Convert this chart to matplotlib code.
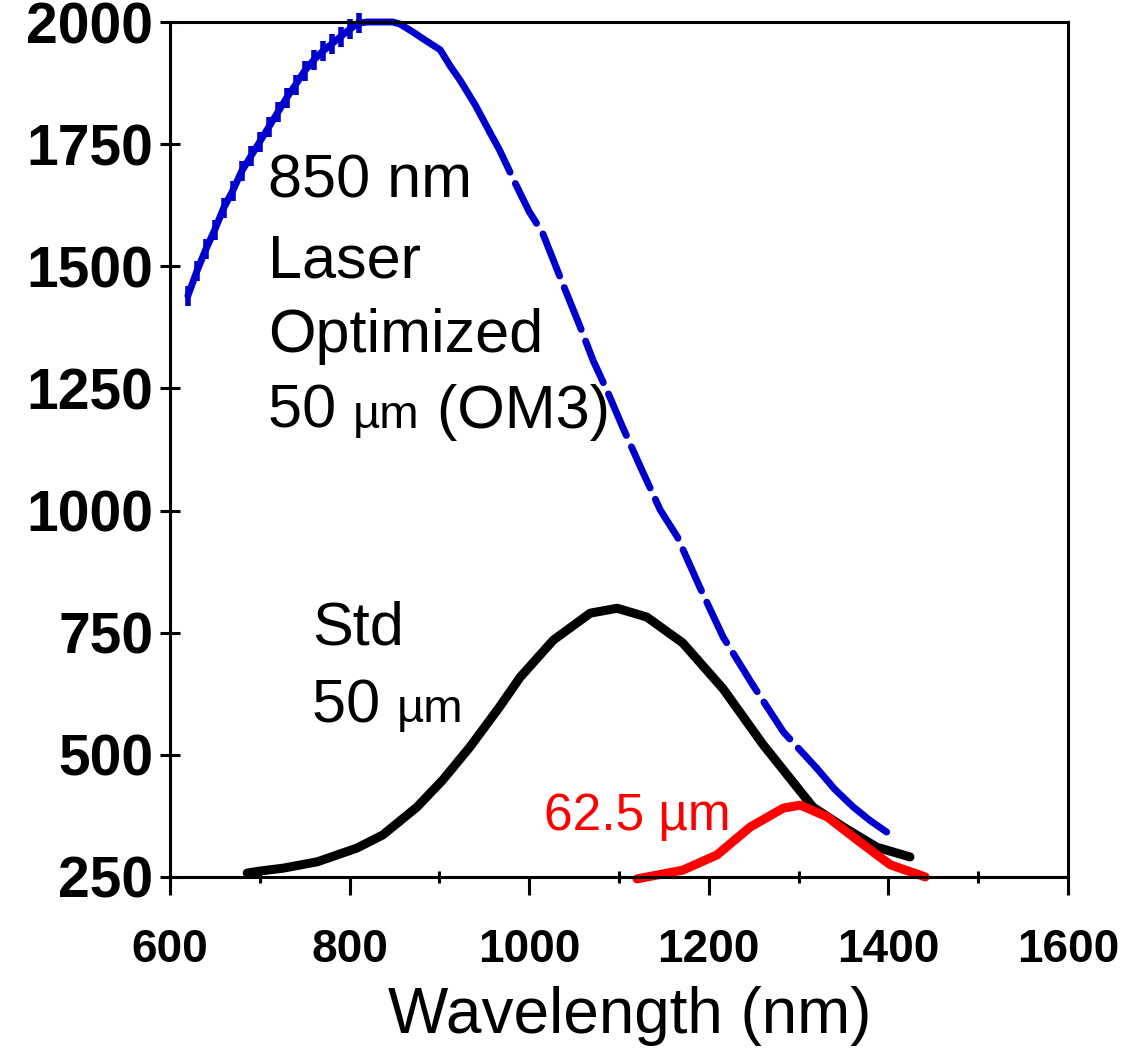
import matplotlib
matplotlib.use('Agg')
import matplotlib.pyplot as plt
from matplotlib.ticker import MultipleLocator
from matplotlib.transforms import offset_copy

plt.rcParams['font.family'] = ['Liberation Sans', 'DejaVu Sans']

# 850 nm laser optimized 50 um (OM3) - blue
blue_x = [620, 630, 640, 650, 660, 670, 680, 690, 700, 710, 720, 730, 740, 750,
          760, 770, 780, 790, 800, 810, 820, 835, 848, 856, 871, 884, 901, 912,
          923, 940, 956, 967, 985, 1000, 1015, 1035, 1057, 1071, 1088, 1104, 1125,
          1146, 1165, 1190, 1216, 1249, 1283, 1320, 1340, 1361, 1380, 1398]
blue_y = [1440, 1490, 1535, 1575, 1620, 1655, 1695, 1725, 1755, 1785, 1815, 1845,
          1872, 1900, 1922, 1940, 1955, 1970, 1985, 1998, 2000, 2000, 2000, 1996,
          1979, 1963, 1943, 1910, 1881, 1830, 1775, 1738, 1668, 1612, 1568, 1475,
          1375, 1308, 1240, 1171, 1085, 1001, 946, 843, 741, 643, 547, 473, 430,
          393, 365, 342]

# Std 50 um - black
std_x = [686, 700, 726, 764, 808, 837, 875, 904, 934, 967, 990, 1027, 1068, 1098,
         1131, 1171, 1216, 1260, 1316, 1350, 1387, 1424]
std_y = [258, 262, 268, 281, 309, 336, 393, 449, 516, 598, 659, 735, 790, 800,
         782, 729, 635, 522, 393, 352, 311, 291]

# 62.5 um - red
r62_x = [1120, 1171, 1209, 1246, 1283, 1302, 1332, 1365, 1402, 1441]
r62_y = [246, 264, 295, 352, 391, 397, 373, 326, 275, 250]

kBlue = '#0000cc'
kRed = '#ff0000'

fig = plt.figure(figsize=(11.24, 10.48), dpi=100)
ax = fig.add_axes([0.1512, 0.1632, 0.7990, 0.8158])

# blue: solid rise with little steps, dashed fall, solid tail
i_dash = blue_x.index(956)
i_tail = blue_x.index(1320)
ax.plot(blue_x[:i_dash + 1], blue_y[:i_dash + 1], color=kBlue, lw=5,
        solid_capstyle='round', solid_joinstyle='round', clip_on=False)
ax.plot(blue_x[:20], blue_y[:20], color=kBlue, lw=0, marker='|',
        markersize=14, mew=4, clip_on=False)
ax.plot(blue_x[i_dash:i_tail + 1], blue_y[i_dash:i_tail + 1], color=kBlue, lw=5,
        dashes=(6.5, 1.8), dash_capstyle='round', dash_joinstyle='round')
ax.plot(blue_x[i_tail:], blue_y[i_tail:], color=kBlue, lw=5,
        solid_capstyle='round', solid_joinstyle='round')

ax.plot(std_x, std_y, color='black', lw=6.5, solid_capstyle='round',
        solid_joinstyle='round', clip_on=False)
ax.plot(r62_x, r62_y, color=kRed, lw=6.5, solid_capstyle='round',
        solid_joinstyle='round', clip_on=False)

ax.set_xlim(600, 1600)
ax.set_ylim(250, 2000)
ax.xaxis.set_major_locator(MultipleLocator(200))
ax.xaxis.set_minor_locator(MultipleLocator(100))
ax.yaxis.set_major_locator(MultipleLocator(250))

for s in ax.spines.values():
    s.set_linewidth(2.2)

ax.tick_params(axis='x', which='major', direction='out', length=13, width=2.2,
               pad=24, labelsize=33)
ax.tick_params(axis='x', which='minor', direction='inout', length=9, width=2.2)
ax.tick_params(axis='y', which='major', direction='inout', length=14, width=2.2,
               pad=5, labelsize=41)
for lab in ax.get_xticklabels() + ax.get_yticklabels():
    lab.set_fontweight('bold')

fig.text(0.5605, 0.0143, 'Wavelength (nm)', fontsize=46, ha='center', va='baseline')

# annotations
big = 44
small = 34
ax.text(709, 1640, '850 nm', fontsize=big, va='baseline')
ax.text(709, 1478, 'Laser', fontsize=big, va='baseline')
ax.text(709, 1324, 'Optimized', fontsize=big, va='baseline')
ax.text(758, 725, 'Std', fontsize=big, va='baseline')
ax.text(1017, 346, '62.5 µm', fontsize=37, color=kRed, va='baseline')

renderer = fig.canvas.get_renderer()


def text_run(x, y, pieces):
    # place pieces one after another on the same baseline
    dx = 0
    for s, fs in pieces:
        tr = offset_copy(ax.transData, fig=fig, x=dx, y=0, units='dots')
        t = ax.text(x, y, s, fontsize=fs, va='baseline', transform=tr)
        dx += t.get_window_extent(renderer).width


text_run(709, 1169, [('50 ', big), ('µm', small), (' (OM3)', big)])
text_run(758, 567, [('50 ', big), ('µm', small)])

fig.savefig('out.png', dpi=100)
